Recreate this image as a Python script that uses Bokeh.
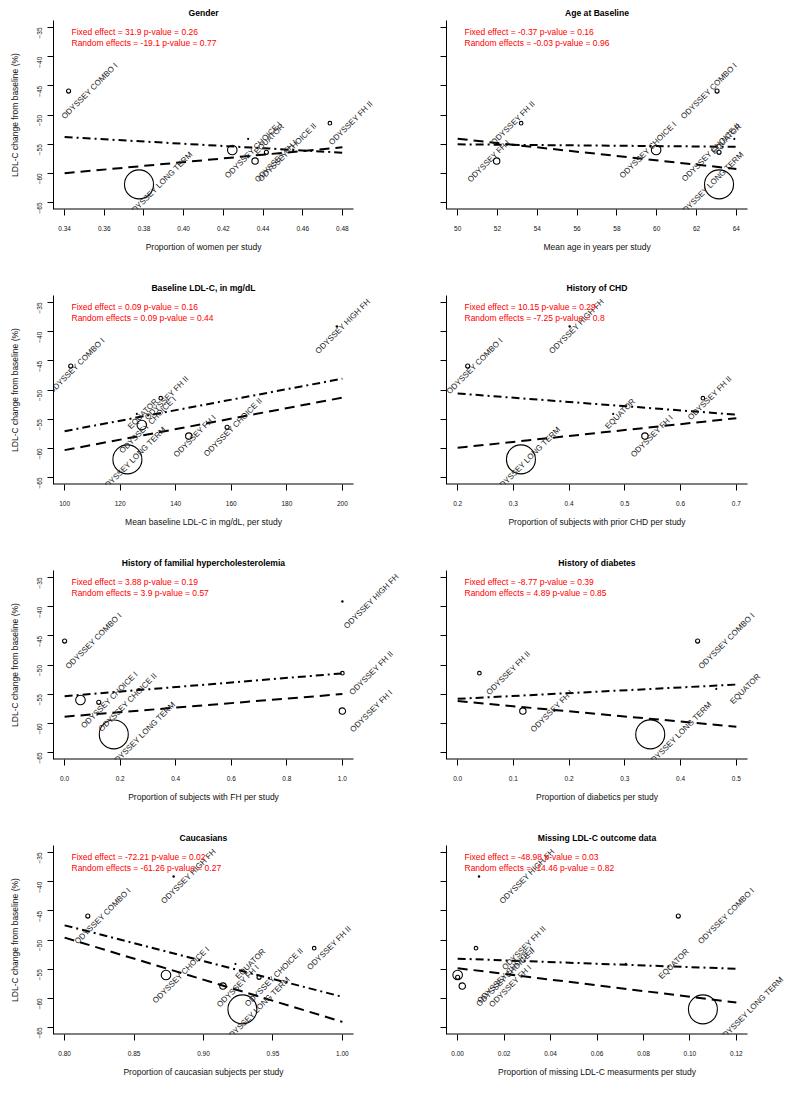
import math
from bokeh.plotting import figure
from bokeh.models import ColumnDataSource, Label, FixedTicker, Range1d, PrintfTickFormatter, Title
from bokeh.layouts import column, row
from bokeh.embed import file_html
from bokeh.resources import INLINE

# ---------------- data ----------------
studies = ["ODYSSEY COMBO I", "ODYSSEY LONG TERM", "ODYSSEY CHOICE I", "ODYSSEY CHOICE II",
           "EQUATOR", "ODYSSEY FH I", "ODYSSEY FH II", "ODYSSEY HIGH FH"]
ldl_change = [-45.9, -61.9, -56.0, -56.4, -54.1, -57.9, -51.4, -39.1]
study_weight = [0.14, 1.0, 0.33, 0.14, 0.035, 0.22, 0.125, 0.05]   # relative circle radius

x_gender = [0.342, 0.3775, 0.4245, 0.4417, 0.4325, 0.436, 0.4737, None]
x_age = [63.03, 63.13, 59.97, 63.13, 63.9, 51.96, 53.19, None]
x_ldl_base = [102.2, 122.6, 127.8, 158.5, 126.0, 144.7, 134.6, 198.0]
x_chd = [0.218, 0.3135, None, None, 0.479, 0.536, 0.640, 0.401]
x_fh = [0.0, 0.177, 0.057, 0.123, None, 1.0, 1.0, 1.0]
x_diabetes = [0.4305, 0.3455, None, None, 0.464, 0.117, 0.039, None]
x_caucasian = [0.8167, 0.928, 0.873, 0.940, 0.923, 0.914, 0.9797, 0.8785]
x_missing = [0.095, 0.1056, 0.0, 0.0, 0.0724, 0.002, 0.0079, 0.0092]

titles = ["Gender", "Age at Baseline", "Baseline LDL-C, in mg/dL", "History of CHD",
          "History of familial hypercholesterolemia", "History of diabetes",
          "Caucasians", "Missing LDL-C outcome data"]
x_labels = ["Proportion of women per study", "Mean age in years per study",
            "Mean baseline LDL-C in mg/dL, per study", "Proportion of subjects with prior CHD per study",
            "Proportion of subjects with FH per study", "Proportion of diabetics per study",
            "Proportion of caucasian subjects per study", "Proportion of missing LDL-C measurments per study"]
y_label = "LDL-C change from baseline (%)"

ticks_gender = [0.34, 0.36, 0.38, 0.40, 0.42, 0.44, 0.46, 0.48]
ticks_age = [50, 52, 54, 56, 58, 60, 62, 64]
ticks_ldl_base = [100, 120, 140, 160, 180, 200]
ticks_chd = [0.2, 0.3, 0.4, 0.5, 0.6, 0.7]
ticks_fh = [0.0, 0.2, 0.4, 0.6, 0.8, 1.0]
ticks_diabetes = [0.0, 0.1, 0.2, 0.3, 0.4, 0.5]
ticks_caucasian = [0.80, 0.85, 0.90, 0.95, 1.00]
ticks_missing = [0.00, 0.02, 0.04, 0.06, 0.08, 0.10, 0.12]
tick_formats = ["%.2f", "%d", "%d", "%.1f", "%.1f", "%.1f", "%.2f", "%.2f"]
y_ticks = [-65, -60, -55, -50, -45, -40, -35]

fixed_effect = [31.9, -0.37, 0.09, 10.15, 3.88, -8.77, -72.21, -48.98]
fixed_p = [0.26, 0.16, 0.16, 0.29, 0.19, 0.39, 0.02, 0.03]
fixed_intercept = [-70.84, -35.57, -69.31, -61.94, -58.86, -56.19, 8.18, -54.83]
random_effect = [-19.1, -0.03, 0.09, -7.25, 3.9, 4.89, -61.26, -14.46]
random_p = [0.77, 0.96, 0.44, 0.8, 0.57, 0.85, 0.27, 0.82]
random_intercept = [-47.29, -53.53, -66.06, -49.15, -55.34, -55.8, 1.52, -53.2]

xs_all = [x_gender, x_age, x_ldl_base, x_chd, x_fh, x_diabetes, x_caucasian, x_missing]
ticks_all = [ticks_gender, ticks_age, ticks_ldl_base, ticks_chd, ticks_fh, ticks_diabetes,
             ticks_caucasian, ticks_missing]

# ---------------- style ----------------
FONT = "Liberation Sans"
FRAME_H = 189
MAX_R = 14.5
label_shift_px = [21, -8, 6, 7, 29, 29, 15, 48]

# Arial / Liberation Sans advance widths (1/1000 em), used to centre titles
_REG = {" ": 278, ",": 278, "-": 333, ".": 278, "(": 333, ")": 333, "%": 889, "/": 278,
        "A": 667, "B": 667, "C": 722, "D": 722, "E": 667, "F": 611, "G": 778, "H": 722,
        "I": 278, "L": 556, "M": 833, "N": 722, "O": 778, "P": 667, "R": 722, "S": 667,
        "T": 611, "U": 722, "V": 667, "Y": 667,
        "a": 556, "b": 556, "c": 500, "d": 556, "e": 556, "f": 278, "g": 556, "h": 556,
        "i": 222, "j": 222, "k": 500, "l": 222, "m": 833, "n": 556, "o": 556, "p": 556,
        "q": 556, "r": 333, "s": 500, "t": 278, "u": 556, "v": 500, "w": 722, "x": 500,
        "y": 500, "z": 500}
_BOLD = {" ": 278, ",": 278, "-": 333, ".": 278, "/": 278,
         "A": 722, "B": 722, "C": 722, "D": 722, "E": 667, "F": 611, "G": 778, "H": 722,
         "I": 278, "L": 611, "M": 833, "N": 722, "O": 778, "P": 667, "R": 722, "S": 667,
         "T": 611, "U": 722, "V": 667, "Y": 667,
         "a": 556, "b": 611, "c": 556, "d": 611, "e": 556, "f": 333, "g": 611, "h": 611,
         "i": 278, "l": 278, "m": 889, "n": 611, "o": 611, "p": 611, "r": 389, "s": 556,
         "t": 333, "u": 611, "v": 556, "y": 556, "z": 500}


def text_width(s, size, bold=False):
    table = _BOLD if bold else _REG
    return sum(table.get(ch, 556) for ch in s) * size / 1000.0


def expand(lo, hi):
    d = 0.04 * (hi - lo)
    return lo - d, hi + d


def make_panel(i):
    col = i % 2
    rw = i // 2
    ticks = ticks_all[i]
    xlo, xhi = expand(ticks[0], ticks[-1])
    ylo, yhi = expand(y_ticks[0], y_ticks[-1])
    if col == 0:
        fw, extra, mbl, mbr = 300, 55, 53, 8
    else:
        fw, extra, mbl, mbr = 301, 37, 30, 2
    # the frame is widened to the right so that study labels may run past the
    # plotting region, as in the original; the x axis line is drawn only over
    # the plotting region
    x_end = xhi + extra / fw * (xhi - xlo)
    mbt = 20 if rw == 0 else 18
    mbb = 64 if rw == 3 else 68
    p = figure(frame_width=fw + extra, frame_height=FRAME_H,
               x_range=Range1d(xlo, x_end), y_range=Range1d(ylo, yhi),
               output_backend="svg", toolbar_location=None,
               min_border_left=mbl, min_border_right=mbr,
               min_border_top=mbt, min_border_bottom=mbb,
               title=titles[i])
    p.title.align = "left"
    p.title.offset = fw / 2 - text_width(titles[i], 8.6, True) / 2
    p.title.text_font = FONT
    p.title.text_font_size = "8.6px"
    p.title.text_font_style = "bold"
    p.title.text_color = "black"
    p.title.standoff = 5
    p.grid.visible = False
    p.outline_line_color = None
    p.background_fill_color = "white"
    p.border_fill_color = "white"

    for ax in (p.xaxis[0], p.yaxis[0]):
        ax.axis_line_color = "black"
        ax.axis_line_width = 1
        ax.major_tick_line_color = "black"
        ax.major_tick_out = 6
        ax.major_tick_in = 0
        ax.minor_tick_line_color = None
        ax.major_label_text_font = FONT
        ax.major_label_text_font_size = "6.5px"
        ax.major_label_text_color = "#111111"
        ax.axis_label_text_font = FONT
        ax.axis_label_text_font_size = "8.5px"
        ax.axis_label_text_font_style = "normal"
        ax.axis_label_text_color = "#111111"

    xa = p.xaxis[0]
    xa.ticker = FixedTicker(ticks=ticks)
    xa.formatter = PrintfTickFormatter(format=tick_formats[i])
    xa.major_label_standoff = 10
    xa.axis_line_color = None
    p.line([xlo, xhi], [ylo, ylo], line_color="black", line_width=2)
    p.add_layout(Title(text=x_labels[i], align="left",
                       offset=fw / 2 - text_width(x_labels[i], 8.5) / 2,
                       text_font=FONT, text_font_size="8.5px",
                       text_font_style="normal", text_color="#111111",
                       standoff=12), "below")

    ya = p.yaxis[0]
    ya.ticker = FixedTicker(ticks=y_ticks)
    ya.major_label_orientation = math.pi / 2
    if col == 0:
        ya.major_label_standoff = 8
        ya.axis_label = y_label
        ya.axis_label_standoff = 12
    else:
        ya.major_label_standoff = 4
        ya.major_label_text_alpha = 0

    # regression lines (fixed = dashed, random = dash-dot)
    lx = [ticks[0], ticks[-1]]
    p.line(lx, [fixed_intercept[i] + fixed_effect[i] * v for v in lx],
           line_color="black", line_width=2, line_dash="10 6")
    p.line(lx, [random_intercept[i] + random_effect[i] * v for v in lx],
           line_color="black", line_width=2, line_dash="8 4 2 4")

    # studies
    xs = xs_all[i]
    keep = [k for k in range(len(studies)) if xs[k] is not None]
    src = ColumnDataSource(dict(
        x=[xs[k] for k in keep],
        y=[ldl_change[k] for k in keep],
        d=[2 * MAX_R * study_weight[k] for k in keep],
    ))
    p.scatter("x", "y", size="d", source=src, marker="circle",
              fill_color=None, line_color="black", line_width=1.1)
    for k in keep:
        p.add_layout(Label(x=xs[k], y=ldl_change[k], text=studies[k],
                           angle=math.pi / 4, x_offset=label_shift_px[i],
                           text_align="center", text_baseline="middle",
                           text_font=FONT, text_font_size="8px",
                           text_color="#222222"))

    # stats text
    yr = yhi - ylo
    lines = ["Fixed effect = %s  p-value = %s" % (fixed_effect[i], fixed_p[i]),
             "Random effects = %s  p-value = %s" % (random_effect[i], random_p[i])]
    for j, txt in enumerate(lines):
        ypos = yhi - (11.3 + 11.3 * j) / FRAME_H * yr
        p.add_layout(Label(x=xlo, y=ypos, x_offset=18, text=txt,
                           text_baseline="middle", text_align="left",
                           text_font=FONT, text_font_size="8.5px",
                           text_color="#ff0000"))
    return p


figs = [make_panel(i) for i in range(8)]
layout = column(*[row(figs[2 * r], figs[2 * r + 1]) for r in range(4)])

open("out.html", "w").write(file_html(layout, INLINE, "Meta-regression"))
